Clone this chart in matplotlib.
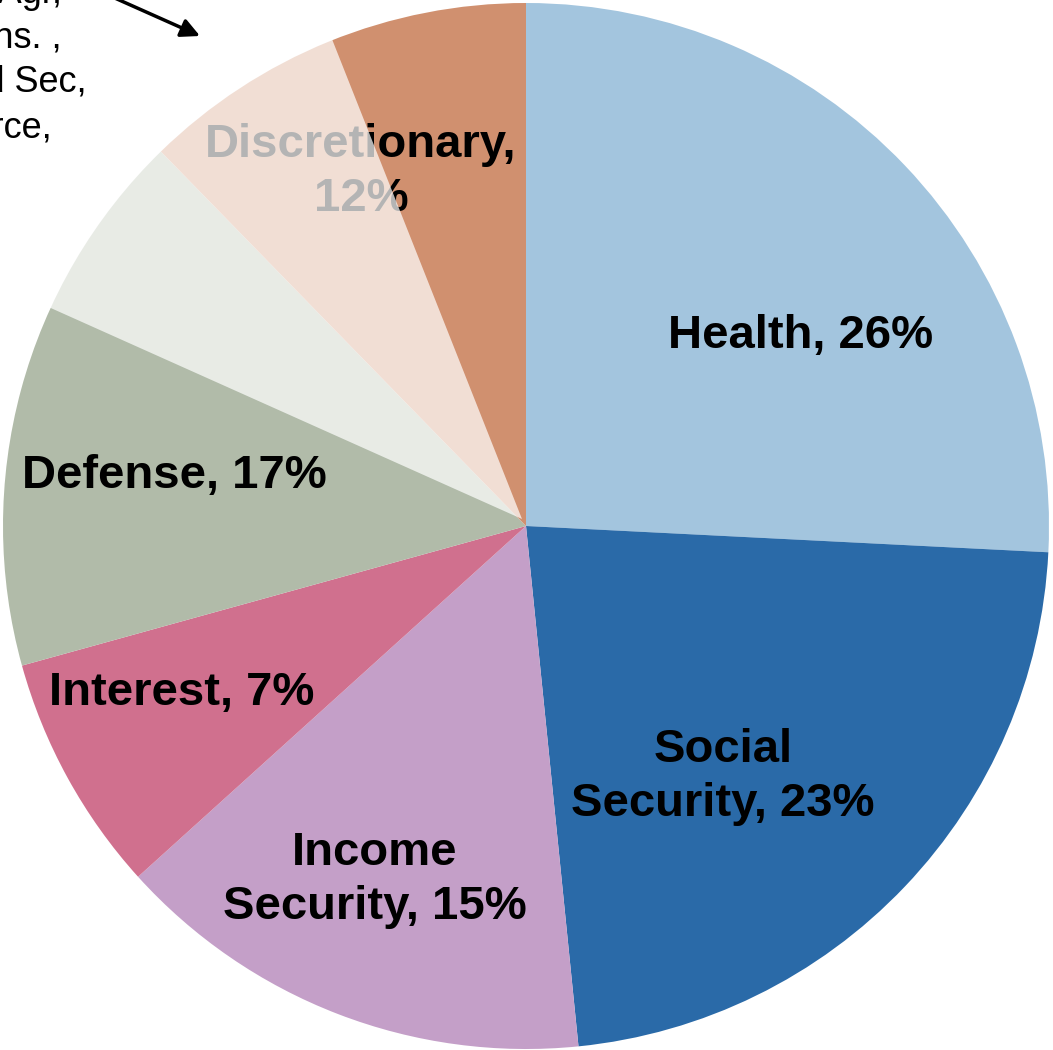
"""Federal spending shares pie, with a translucent overlay marking the 'other' programs."""
import matplotlib

matplotlib.use("Agg")
import matplotlib.pyplot as plt
from matplotlib.patches import Wedge

CATEGORIES = ["Health", "Social Security", "Income Security", "Interest", "Defense", "Discretionary"]
SHARES = [25.8, 22.6, 14.9, 7.4, 17.0, 12.3]
LABELS = ["Health, 26%", "Social\nSecurity, 23%", "Income\nSecurity, 15%",
          "Interest, 7%", "Defense, 17%", "Discretionary,\n12%"]
COLORS = ["#a3c5de", "#2a6aa8", "#c49fc8", "#d0708e", "#b1bba9", "#d0906f"]

# overlay: part of Defense (before the boundary) and part of Discretionary (after)
OVERLAY_SHARES = [6.0, 6.3]
NOTE_LINES = ["Transportation, Agr,", "Veterans. ,", "Homeland Sec,", "Commerce,"]

# pixel geometry of the reference
W, H = 1053, 1050
CX, CY, R = 526, 526, 523


def px(x, y):
    return (x - CX) / R, (CY - y) / R


plt.rcParams["font.family"] = ["Liberation Sans", "DejaVu Sans"]

fig = plt.figure(figsize=(W / 100, H / 100), dpi=100)
ax = fig.add_axes([0, 0, 1, 1])
ax.pie(SHARES, colors=COLORS, startangle=90, counterclock=False, radius=1,
       wedgeprops=dict(linewidth=0))
ax.set_xlim(-CX / R, (W - CX) / R)
ax.set_ylim((CY - H) / R, CY / R)
ax.set_aspect("auto")
ax.axis("off")

# label baselines (first line) and centres
label_pos = [(801, 348), (723, 762), (375, 865), (182, 705), (174, 488), (361, 157)]
line_gap = 54
for label, (lx, ly) in zip(LABELS, label_pos):
    for i, line in enumerate(label.split("\n")):
        ax.text(*px(lx, ly + i * line_gap), line, ha="center", va="baseline",
                fontsize=34, fontweight="bold", color="black", zorder=3)

# translucent white wedge straddling the Defense / Discretionary boundary
boundary = 90 + 3.6 * SHARES[-1]
overlay = Wedge(px(522, 519), 1, boundary - 3.6 * OVERLAY_SHARES[1],
                boundary + 3.6 * OVERLAY_SHARES[0], facecolor="white",
                alpha=0.71, linewidth=0, zorder=5)
ax.add_patch(overlay)

# cut-off note in the top-left corner
note_ends = [(62, 3), (62, 48), (87, 92), (52, 137)]
for line, (nx, ny) in zip(NOTE_LINES, note_ends):
    ax.text(*px(nx, ny), line, ha="right", va="baseline", fontsize=26,
            color="black", zorder=6)

ax.annotate("", xy=px(200, 36), xytext=px(108, -5),
            arrowprops=dict(arrowstyle="-|>", color="black", lw=2.5,
                            mutation_scale=28, shrinkA=0, shrinkB=0),
            zorder=6, annotation_clip=False)

fig.savefig("out.png", dpi=100)
